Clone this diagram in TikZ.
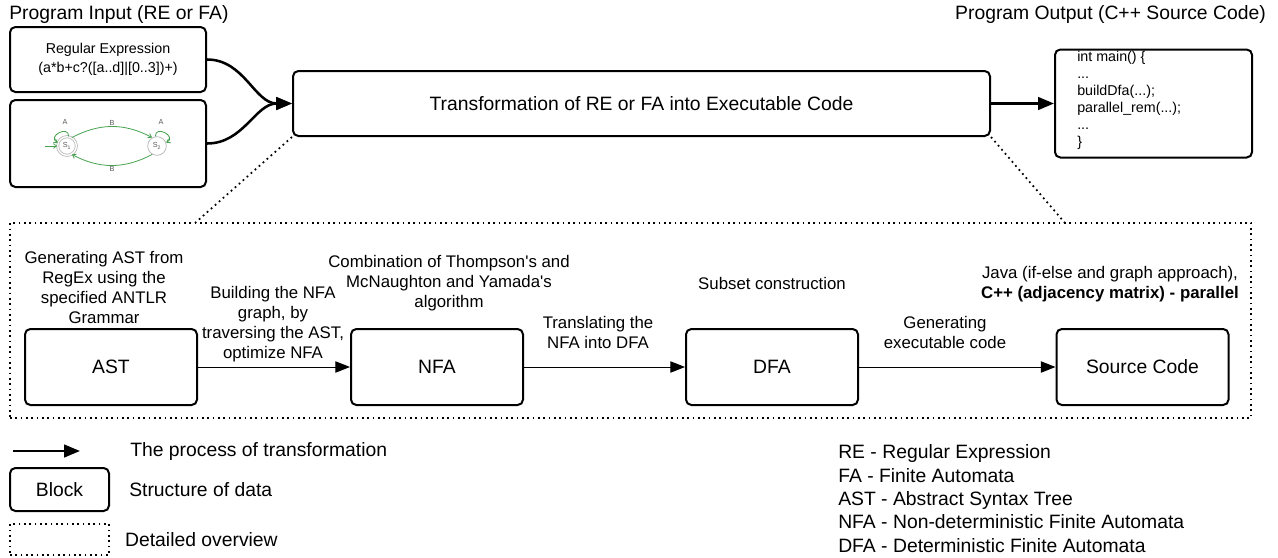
\documentclass[tikz,border=0pt]{standalone}
\usepackage{fontspec}
\setmainfont{Liberation Sans}
\usetikzlibrary{arrows.meta,positioning}
\definecolor{fagreen}{HTML}{45A24F}
\newcommand{\boxfont}{\fontsize{14.5}{17.5}\selectfont}
\newcommand{\notefont}{\fontsize{12.6}{15}\selectfont}
\newcommand{\refont}{\fontsize{10.7}{14.25}\selectfont}
\newcommand{\codefont}{\fontsize{10.7}{12.75}\selectfont}
\newcommand{\fafont}{\fontsize{5.5}{6}\selectfont}

\begin{document}
\begin{tikzpicture}[x=0.75pt, y=-0.75pt,
    block/.style = {draw, line width=1.5pt, rounded corners=4pt, inner sep=0pt, font=\boxfont},
    stage/.style = {block, minimum width=129pt, minimum height=57pt},
    note/.style = {inner sep=0pt, align=center, font=\notefont},
    txt/.style = {inner sep=0pt, font=\boxfont},
    flow/.style = {line width=1.9pt, -{Triangle[length=12pt, width=9.5pt]}},
    thinflow/.style = {line width=0.75pt, -{Triangle[length=11pt, width=8.5pt]}},
    overview/.style = {line width=1.3pt, dash pattern=on 1.3pt off 2.7pt},
    fastate/.style = {circle, draw=gray!55, line width=0.6pt, minimum size=14pt, inner sep=0pt, font=\fafont, text=gray!70!black},
    fa/.style = {fagreen, line width=0.6pt, -{Straight Barb[length=2.5pt, width=3.5pt]}},
    fanote/.style = {inner sep=0.5pt, font=\fafont, text=gray!70!black}]
    \useasboundingbox (0,0) rectangle (1278,557);

    % input and output
    \node[txt, anchor=west] (intitle) at (9,14) {Program Input (RE or FA)};
    \node[txt, anchor=east] (outtitle) at (1266,14) {Program Output (C++ Source Code)};
    \node[block, minimum width=147pt, minimum height=48.75pt, align=center, font=\refont] (re) at (108,59.5) {Regular Expression\\(a*b+c?([a..d]|[0..3])+)};
    \node[block, minimum width=147pt, minimum height=65.25pt] (fa) at (108,143.5) {};
    \node[block, minimum width=522.75pt, minimum height=48.75pt] (main) at (641.5,103.5) {Transformation of RE or FA into Executable Code};
    \node[block, minimum width=147.75pt, minimum height=81pt] (out) at (1153.5,103.5) {};
    \node[inner sep=0pt, align=left, anchor=west, font=\codefont] (code) at (1077,100.5) {int main() \{\\...\\buildDfa(...);\\parallel\_rem(...);\\...\\\}};

    % small automaton
    \node[fastate, double, double distance=1pt] (s1) at (67,146) {S\textsubscript{1}};
    \node[fastate] (s2) at (157,146) {S\textsubscript{2}};
    \coordinate (entry) at (45,146);
    \draw[fa, line width=0.5pt] (entry) -- (s1);
    \draw[fa] (s1.60) to[bend left=28] node[above, fanote] {B} (s2.120);
    \draw[fa] (s2.240) to[bend left=28] node[below, fanote] {B} (s1.300);
    \draw[fa] (s1.80) .. controls +(0,-12) and +(-11,-6) .. (s1.160);
    \draw[fa] (s2.100) .. controls +(0,-12) and +(11,-6) .. (s2.20);
    \node[fanote] (a1) at (65,122) {A};
    \node[fanote] (a2) at (161,122) {A};

    \draw[flow] (re.east) to[out=0, in=180] (main.west);
    \draw[flow] (fa.east) to[out=0, in=180] (main.west);
    \draw[flow] (main.east) -- (out.west);

    % detailed overview
    \node[draw, overview, inner sep=0pt, minimum width=930.75pt, minimum height=146.25pt] (detail) at (630.5,320.5) {};
    \coordinate (zl) at (195,223);
    \coordinate (zr) at (1065,223);
    \draw[overview] (main.south west) -- (zl);
    \draw[overview] (main.south east) -- (zr);

    \node[stage] (ast) at (111,367) {AST};
    \node[stage] (nfa) at (437,367) {NFA};
    \node[stage] (dfa) at (772,367) {DFA};
    \node[stage] (src) at (1142.5,367) {Source Code};
    \draw[thinflow] (ast) -- (nfa);
    \draw[thinflow] (nfa) -- (dfa);
    \draw[thinflow] (dfa) -- (src);

    \node[note] (astnote) at (104,287) {Generating AST from\\RegEx using the\\specified ANTLR\\Grammar};
    \node[note] (buildnote) at (273,324) {Building the NFA\\graph, by\\traversing the AST,\\optimize NFA};
    \node[note] (nfanote) at (449,283) {Combination of Thompson\textquotesingle s and\\McNaughton and Yamada\textquotesingle s\\algorithm};
    \node[note] (transnote) at (598,332) {Translating the\\NFA into DFA};
    \node[note] (dfanote) at (772,283) {Subset construction};
    \node[note] (gennote) at (945,332) {Generating\\executable code};
    \node[note] (srcnote) at (1110,284) {Java (if-else and graph approach),\\\textbf{C++ (adjacency matrix) - parallel}};

    % legend
    \coordinate (ka) at (13,451);
    \coordinate (kb) at (80,451);
    \draw[flow] (ka) -- (kb);
    \node[txt, right=37.5pt of kb] (flowkey) {The process of transformation};
    \node[block, minimum width=74.25pt, minimum height=32.25pt] (blockkey) at (59.5,489.5) {Block};
    \node[txt, right=14.25pt of blockkey] (blocktxt) {Structure of data};
    \node[draw, overview, inner sep=0pt, minimum width=74.25pt, minimum height=23.25pt] (overkey) at (59.5,539.5) {};
    \node[txt, right=11.25pt of overkey] (overtxt) {Detailed overview};
    \node[txt, anchor=west, align=left] (abbr) at (838,498.5) {RE - Regular Expression\\FA - Finite Automata\\AST - Abstract Syntax Tree\\NFA - Non-deterministic Finite Automata\\DFA - Deterministic Finite Automata};
\end{tikzpicture}
\end{document}
